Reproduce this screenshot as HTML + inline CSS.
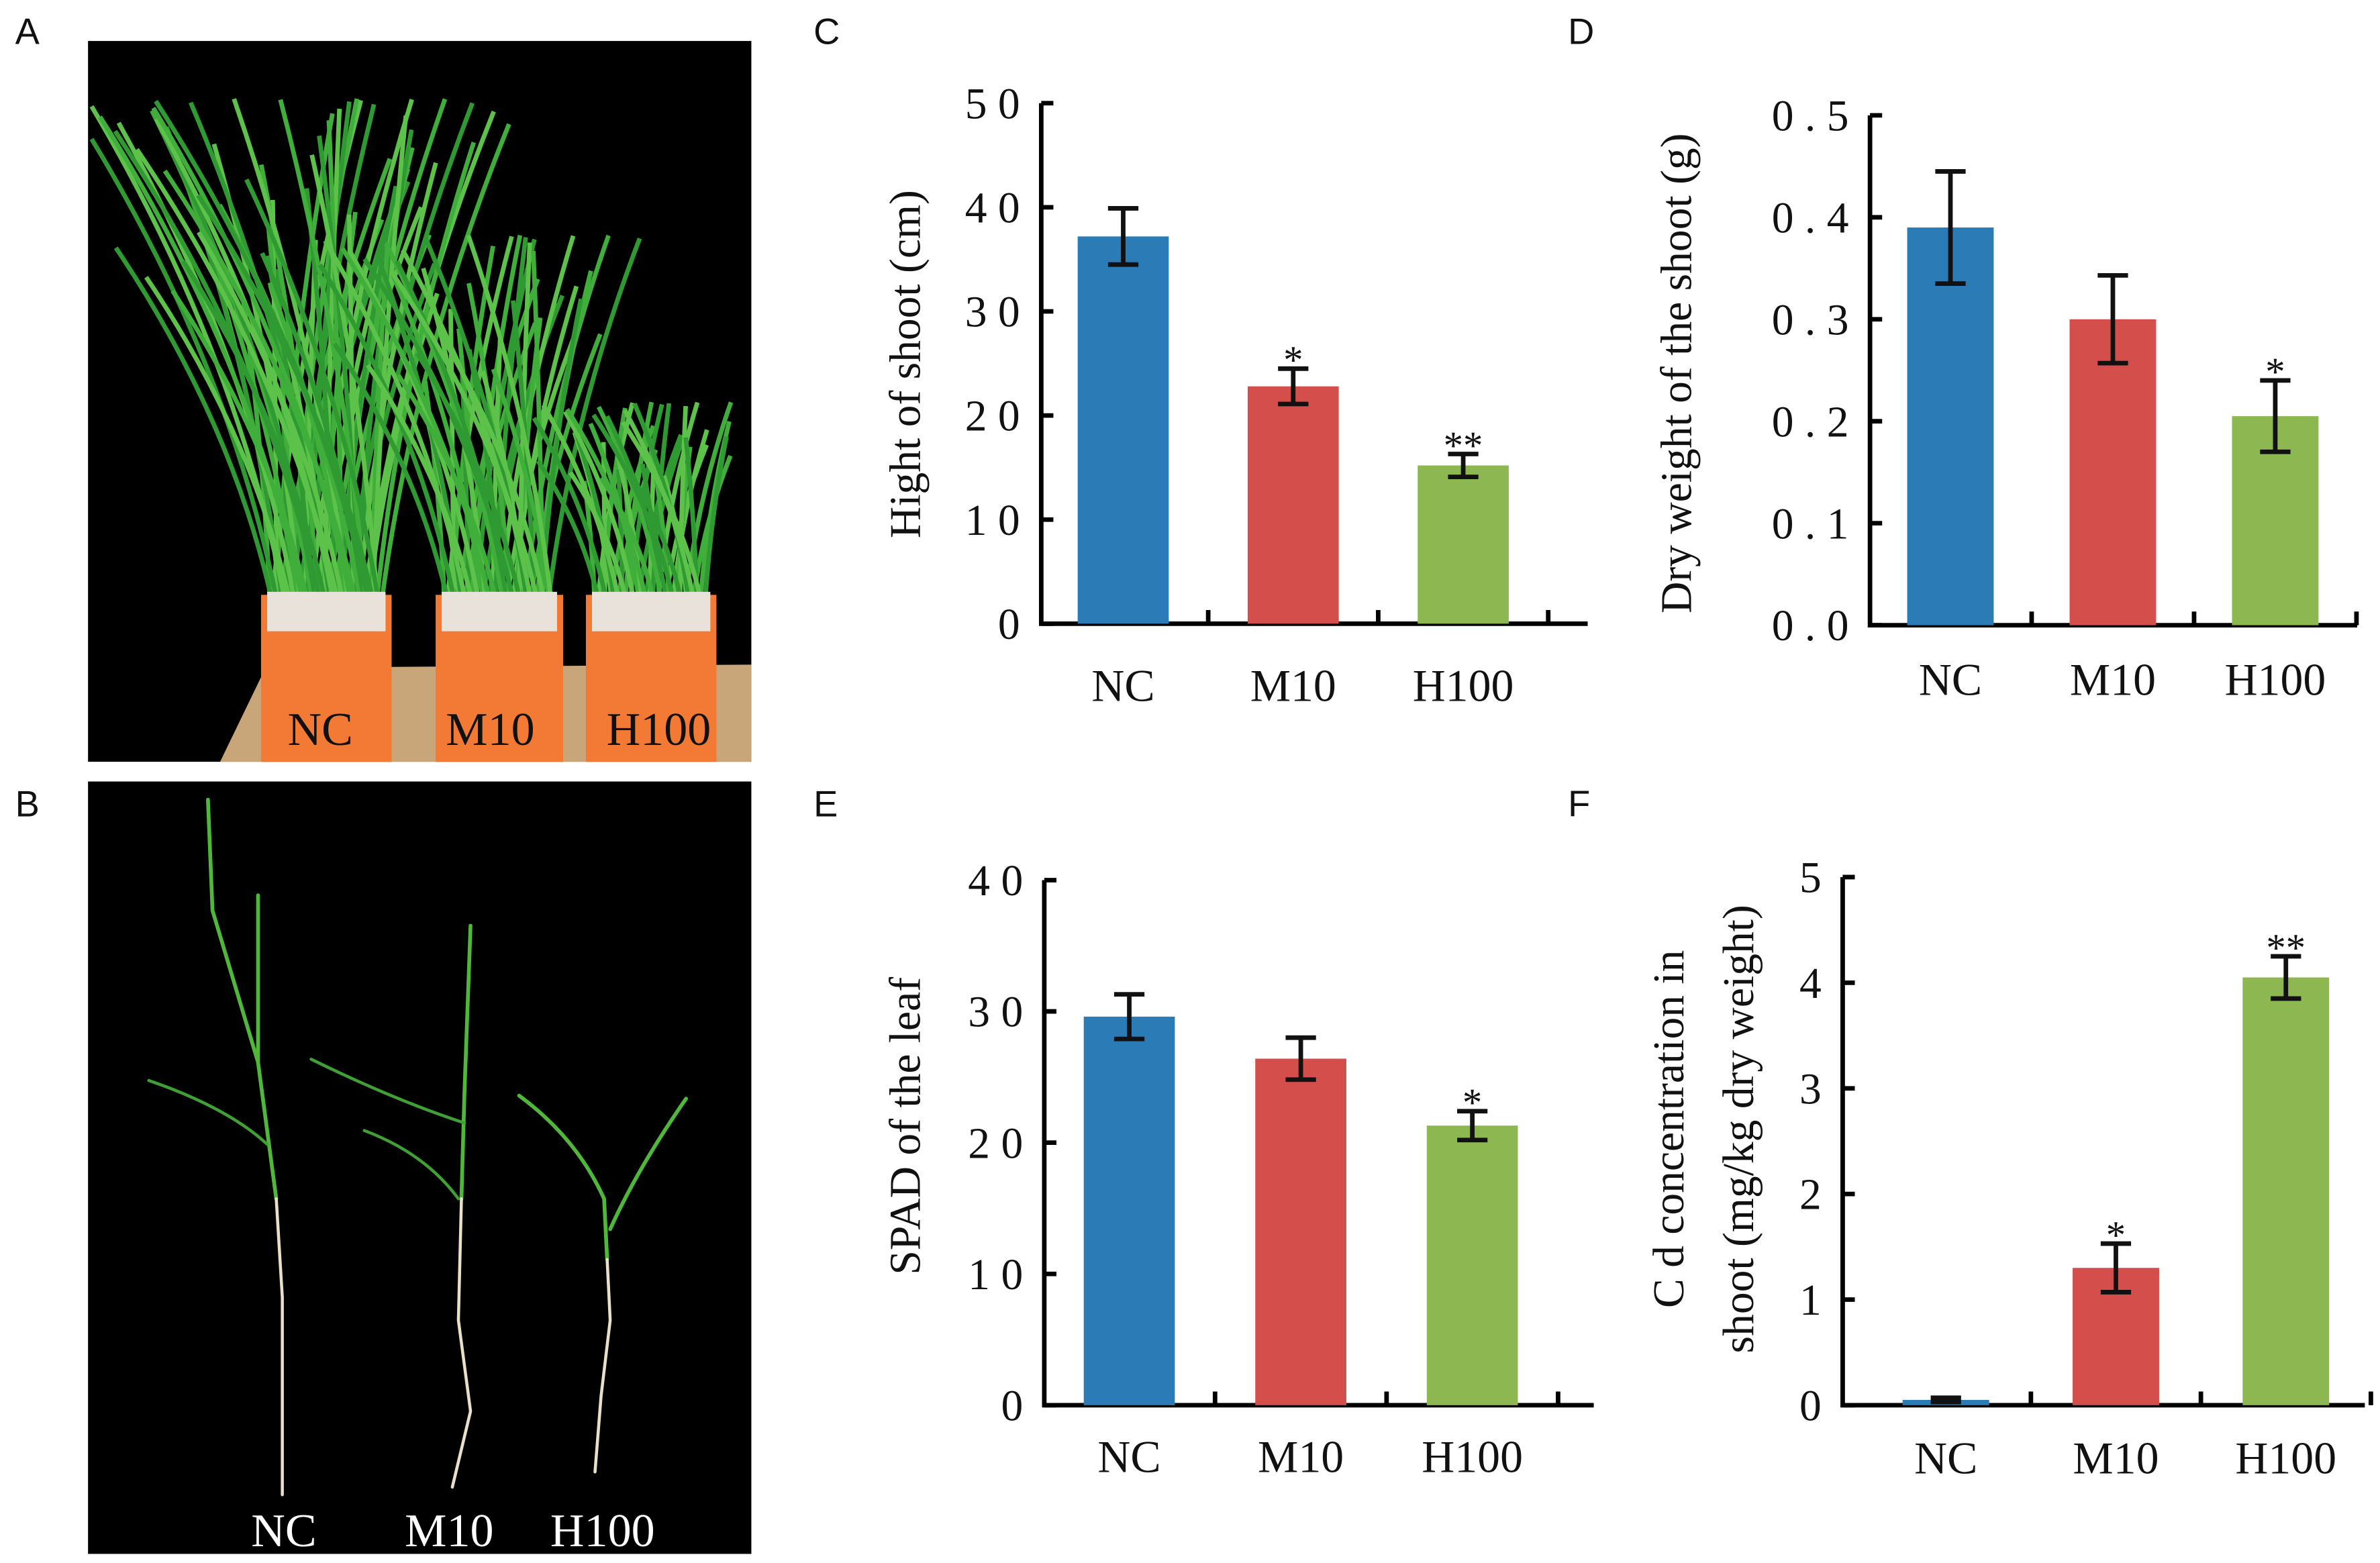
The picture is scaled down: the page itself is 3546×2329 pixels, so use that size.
<!DOCTYPE html>
<html><head><meta charset="utf-8">
<style>
html,body{margin:0;padding:0;background:#fff;}
svg{display:block;}
text{font-family:"Liberation Serif",serif;fill:#111;}
.lab{font-family:"Liberation Sans",sans-serif;font-size:24px;}
</style></head>
<body>
<svg id="fig" width="3546" height="2329" viewBox="0 0 1568 1030" preserveAspectRatio="none" xmlns="http://www.w3.org/2000/svg">
  <text class="lab" x="10" y="29">A</text>
  <text class="lab" x="10" y="538">B</text>
  <text class="lab" x="536" y="29">C</text>
  <text class="lab" x="1033" y="29">D</text>
  <text class="lab" x="536" y="538">E</text>
  <text class="lab" x="1033" y="538">F</text>

  <g id="photoA">
    <rect x="58" y="27" width="437" height="475" fill="#000"/>
    <polygon points="175,440 495,438 495,502 145,502" fill="#c9a57a"/>
    <g id="grassA"></g>
    <rect x="172" y="392" width="86" height="110" fill="#f37a35"/>
    <rect x="176" y="390" width="78" height="26" fill="#e8e2da"/>
    <rect x="287" y="392" width="84" height="110" fill="#f37a35"/>
    <rect x="291" y="390" width="76" height="26" fill="#e8e2da"/>
    <rect x="386" y="392" width="86" height="110" fill="#f37a35"/>
    <rect x="390" y="390" width="78" height="26" fill="#e8e2da"/>
    <text x="211" y="491" font-size="31" text-anchor="middle">NC</text>
    <text x="323" y="491" font-size="31" text-anchor="middle">M10</text>
    <text x="434" y="491" font-size="31" text-anchor="middle">H100</text>
  </g>

  <g id="photoB">
    <rect x="58" y="515" width="437" height="509" fill="#000"/>
    <g fill="none" stroke-linecap="round">
      <path d="M137,527 L140,600 L170,700 L182,790" stroke="#4fb83a" stroke-width="2.5"/>
      <path d="M170,590 L170,700" stroke="#4fb83a" stroke-width="2.5"/>
      <path d="M98,712 Q150,730 176,754" stroke="#3fa033" stroke-width="2"/>
      <path d="M182,790 L186,855 L186,985" stroke="#e8e0c8" stroke-width="2"/>
      <path d="M310,610 L306,720 L304,790" stroke="#4fb83a" stroke-width="2.5"/>
      <path d="M205,698 Q260,725 306,740" stroke="#3fa033" stroke-width="2"/>
      <path d="M240,745 Q280,760 302,790" stroke="#3fa033" stroke-width="2"/>
      <path d="M304,790 L302,870 L310,930 L298,980" stroke="#e8e0c8" stroke-width="2"/>
      <path d="M342,722 Q380,750 398,790 L400,830" stroke="#4fb83a" stroke-width="2.5"/>
      <path d="M452,724 Q420,770 402,810" stroke="#4fb83a" stroke-width="2.5"/>
      <path d="M400,830 L402,870 L396,920 L392,970" stroke="#e8e0c8" stroke-width="2"/>
    </g>
    <text x="187" y="1019" font-size="31" text-anchor="middle" style="fill:#fff">NC</text>
    <text x="296" y="1019" font-size="31" text-anchor="middle" style="fill:#fff">M10</text>
    <text x="397" y="1019" font-size="31" text-anchor="middle" style="fill:#fff">H100</text>
  </g>

  <g id="charts"></g>
</svg>
<script>
const categories = ["NC", "M10", "H100"];
const colors = ["#2b7bb6", "#d44f4c", "#8db851"];

const heightValues = [37.2, 22.8, 15.2];
const heightErrors = [2.7, 1.7, 1.1];
const heightSig = ["", "*", "**"];
const heightTicks = ["0", "1 0", "2 0", "3 0", "4 0", "5 0"];

const dryValues = [0.39, 0.30, 0.205];
const dryErrors = [0.055, 0.043, 0.035];
const drySig = ["", "", "*"];
const dryTicks = ["0 . 0", "0 . 1", "0 . 2", "0 . 3", "0 . 4", "0 . 5"];

const spadValues = [29.6, 26.4, 21.3];
const spadErrors = [1.7, 1.6, 1.1];
const spadSig = ["", "", "*"];
const spadTicks = ["0", "1 0", "2 0", "3 0", "4 0"];

const cdValues = [0.05, 1.3, 4.05];
const cdErrors = [0.02, 0.23, 0.2];
const cdSig = ["", "*", "**"];
const cdTicks = ["0", "1", "2", "3", "4", "5"];

const NS = "http://www.w3.org/2000/svg";
function mk(parent, tag, attrs) {
  const e = document.createElementNS(NS, tag);
  for (const k in attrs) e.setAttribute(k, attrs[k]);
  parent.appendChild(e);
  return e;
}

function drawChart(cfg) {
  const g = mk(document.getElementById("charts"), "g", {});
  
  
  const yScale = v => cfg.y0 - (v / cfg.max) * (cfg.y0 - cfg.yTop);
  const step = cfg.max / (cfg.ticks.length - 1);
  const ax = mk(g, "path", {d: `M${cfg.ax},${cfg.yTop} L${cfg.ax},${cfg.y0} L${cfg.xEnd},${cfg.y0}`, fill: "none", stroke: "#000", "stroke-width": 3});
  
  
  cfg.ticks.forEach((t, i) => {
    const y = yScale(i * step);
    mk(g, "line", {x1: cfg.ax, x2: cfg.ax + 8, y1: y, y2: y, stroke: "#000", "stroke-width": 3});
    const tx = mk(g, "text", {x: cfg.ax - 14, y: y + 10, "font-size": 29, "text-anchor": "end"});
    tx.textContent = t;
    
    
  });
  const n = categories.length;
  const xc = i => cfg.c0 + cfg.band * i;
  for (let i = 0; i < n; i++) {
    const x = xc(i) + cfg.band / 2;
    mk(g, "line", {x1: x, x2: x, y1: cfg.y0, y2: cfg.y0 - 9, stroke: "#000", "stroke-width": 3});
  }
  categories.forEach((c, i) => {
    const cx = xc(i);
    const v = cfg.values[i], e = cfg.errors[i];
    const bar = mk(g, "rect", {x: cx - cfg.bw / 2, y: yScale(v), width: cfg.bw, height: cfg.y0 - yScale(v), fill: colors[i]});
    
    
    const t = yScale(v + e), b = yScale(v - e);
    const eb = mk(g, "path", {d: `M${cx},${t} L${cx},${b} M${cx-10},${t} L${cx+10},${t} M${cx-10},${b} L${cx+10},${b}`, stroke: "#111", "stroke-width": 3, fill: "none"});
    
    
    if (cfg.sig[i]) {
      const s = mk(g, "text", {x: cx, y: t + 3, "font-size": 26, "text-anchor": "middle", "font-family": "Liberation Sans, sans-serif"});
      s.textContent = cfg.sig[i];
      
      
    }
    const lx = mk(g, "text", {x: cx, y: cfg.y0 + cfg.lab, "font-size": 30, "text-anchor": "middle"});
    lx.textContent = c;
    
    
  });
  cfg.titles.forEach(tt => {
    const tx = mk(g, "text", {x: 0, y: 0, "font-size": 29, "text-anchor": "middle", transform: `translate(${tt.x},${tt.y}) rotate(-90)`});
    tx.textContent = tt.s;
    
    
  });
}

drawChart({name: "chart-shoot-height", ax: 686, y0: 411, yTop: 68, xEnd: 1046, max: 50, bw: 60, c0: 740, band: 112, lab: 51,
  values: heightValues, errors: heightErrors, sig: heightSig, ticks: heightTicks,
  titles: [{s: "Hight  of  shoot (cm)", x: 606, y: 240}]});
drawChart({name: "chart-dry-weight", ax: 1232, y0: 412, yTop: 76, xEnd: 1553, max: 0.5, bw: 57, c0: 1285, band: 107, lab: 46,
  values: dryValues, errors: dryErrors, sig: drySig, ticks: dryTicks,
  titles: [{s: "Dry weight of the shoot (g)", x: 1114, y: 246}]});
drawChart({name: "chart-spad", ax: 688, y0: 926, yTop: 580, xEnd: 1050, max: 40, bw: 60, c0: 744, band: 113, lab: 44,
  values: spadValues, errors: spadErrors, sig: spadSig, ticks: spadTicks,
  titles: [{s: "SPAD of  the leaf", x: 606, y: 742}]});
drawChart({name: "chart-cd-concentration", ax: 1214, y0: 926, yTop: 578, xEnd: 1558, max: 5, bw: 57, c0: 1282, band: 112, lab: 45,
  values: cdValues, errors: cdErrors, sig: cdSig, ticks: cdTicks,
  titles: [{s: "C d   concentration  in", x: 1109, y: 744}, {s: "shoot (mg/kg dry weight)", x: 1155, y: 744}]});

const gA = document.getElementById("grassA");
const pots = [{x0: 178, x1: 252, h: 330, n: 70}, {x0: 293, x1: 365, h: 240, n: 50}, {x0: 392, x1: 466, h: 130, n: 45}];
pots.forEach(p => {
  for (let i = 0; i < p.n; i++) {
    const f = i / p.n;
    const bx = p.x0 + (p.x1 - p.x0) * f;
    const lean = Math.sin(i * 2.3) * 0.6 - 0.15;
    const h = p.h * (0.6 + 0.4 * Math.abs(Math.sin(i * 1.7)));
    const tx = bx + lean * h * 0.6;
    const ty = 395 - h;
    const c = i % 3 === 0 ? "#3fae3a" : (i % 3 === 1 ? "#5cc24a" : "#2f9a32");
    mk(gA, "path", {d: `M${bx},400 Q${bx + lean * h * 0.15},${395 - h * 0.5} ${tx},${ty}`, stroke: c, "stroke-width": 3, fill: "none"});
  }
});
</script>
</body></html>
